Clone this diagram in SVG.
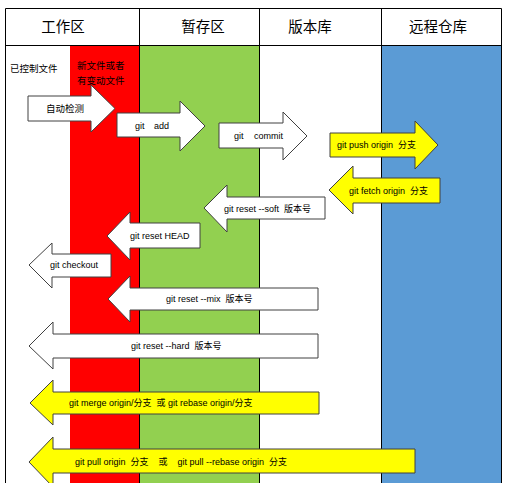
<svg xmlns="http://www.w3.org/2000/svg" width="506" height="483" viewBox="0 0 506 483">
<style>
text{font-family:"Liberation Sans","Noto Sans CJK SC",sans-serif;fill:#000;white-space:pre}
.h{font-size:14.5px;text-anchor:middle}
.s{font-size:9px}
.l{font-size:9.5px}
.a{stroke:#404040;stroke-width:1}
.w{fill:#fff}
.y{fill:#ffff00}
.ln{stroke:#000;stroke-width:1;fill:none}
</style>
<rect width="506" height="483" fill="#fff"/>
<g id="columns">
<rect x="70" y="45" width="69" height="438" fill="#ff0000"/>
<rect x="139" y="45" width="120" height="438" fill="#92d050"/>
<rect x="381" y="45" width="120" height="438" fill="#5b9bd5"/>
<path class="ln" d="M5.5 8.5H501.5V483M5.5 8.5V483M5.5 45.5H501.5M139.5 8.5V483M259.5 8.5V483M381.5 8.5V483"/>
</g>
<g id="header">
<text class="h" x="63" y="32">工作区</text>
<text class="h" x="203" y="32">暂存区</text>
<text class="h" x="310" y="32">版本库</text>
<text class="h" x="438" y="32">远程仓库</text>
</g>
<g id="labels">
<text class="l" x="10" y="72">已控制文件</text>
<text class="l" x="77" y="69">新文件或者</text>
<text class="l" x="77" y="84">有变动文件</text>
</g>
<g id="connectors">
<g id="auto"><path class="a w" d="M28 96H91V85L115 108.5L91 132V121H28Z"/><text class="l" x="46" y="112">自动检测</text></g>
<g id="add"><path class="a w" d="M117 113H180V101L205 126L180 151V137H117Z"/><text class="s" x="135" y="129">git</text><text class="s" x="154" y="129">add</text></g>
<g id="commit"><path class="a w" d="M219 123H283V112L307 136L283 160V148H219Z"/><text class="s" x="234" y="139">git</text><text class="s" x="254" y="139">commit</text></g>
<g id="push"><path class="a y" d="M330 133H415V121L438 145L415 169V157H330Z"/><text class="s" x="337" y="148">git push origin  分支</text></g>
<g id="fetch"><path class="a y" d="M440 178H353V166L329 190L353 214V203H440Z"/><text class="s" x="349" y="194">git fetch origin  分支</text></g>
<g id="soft"><path class="a w" d="M325 197H227V185L204 208L227 232V219H325Z"/><text class="s" x="224" y="212">git reset --soft  版本号</text></g>
<g id="head"><path class="a w" d="M200 223H130V212L107 236L130 260V248H200Z"/><text class="s" x="130" y="239">git reset HEAD</text></g>
<g id="checkout"><path class="a w" d="M111 254H52V243L29 265L52 288V277H111Z"/><text class="s" x="50" y="268">git checkout</text></g>
<g id="mix"><path class="a w" d="M318 288H130V276L108 299L130 322V310H318Z"/><text class="s" x="166" y="302">git reset --mix  版本号</text></g>
<g id="hard"><path class="a w" d="M318 334H53V322L29 346L53 369V358H318Z"/><text class="s" x="131" y="349">git reset --hard  版本号</text></g>
<g id="merge"><path class="a y" d="M319 392H53V380L30 403L53 425V414H319Z"/><text class="s" x="69" y="406">git merge origin/分支  或 git rebase origin/分支</text></g>
<g id="pull"><path class="a y" d="M415 449H53V437L29 462L53 487V473H415Z"/><text class="s" x="75" y="465">git pull origin  分支    或    git pull --rebase origin  分支</text></g>
</g>
</svg>
